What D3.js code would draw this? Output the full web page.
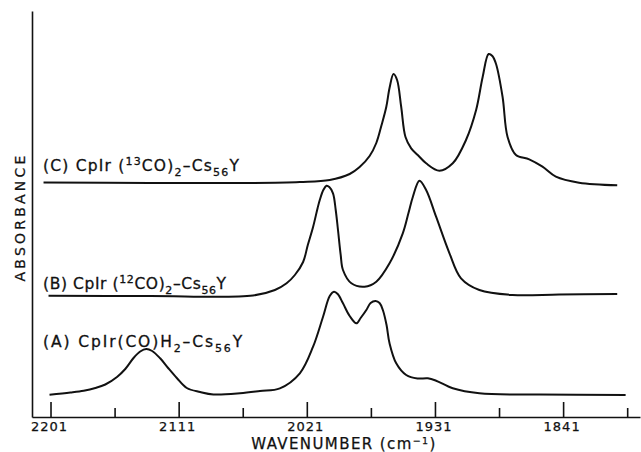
<!DOCTYPE html>
<meta charset="utf-8">
<script src="https://cdn.jsdelivr.net/npm/d3@7"></script>
<style>
body { margin: 0; background: #fff; }
.axis path, .axis line { stroke: #111; stroke-width: 1.6; }
.axis text { fill: #111; font-family: "DejaVu Sans", sans-serif; font-size: 13px; letter-spacing: 1px; stroke: #111; stroke-width: 0.25; }
path.trace { fill: none; stroke: #111; stroke-width: 2; stroke-linejoin: round; }
.trace_label { fill: #111; font-family: "DejaVu Sans", sans-serif; font-size: 15.5px; stroke: #111; stroke-width: 0.3; }
.axis_title { fill: #111; font-family: "DejaVu Sans", sans-serif; stroke: #111; stroke-width: 0.25; }
</style>
<body>
<div id="container"></div>
<script>
//------------------------------DATA------------------------------//
const majorTicks = [2201, 2111, 2021, 1931, 1841];
const minorTicks = [2156, 2066, 1976, 1886, 1796];

// [wavenumber (cm-1), absorbance (arb. units, traces offset)]
const traceA = [
  [2201.7, 22.3], [2187.0, 24.5], [2177.7, 26.3], [2169.5, 29], [2162.5, 32.5],
  [2154.3, 40], [2148.5, 48], [2142.7, 59], [2138.0, 65.5], [2133.8, 68],
  [2129.6, 66], [2124.0, 58.7], [2118.4, 49], [2112.3, 39], [2105.3, 29],
  [2095.9, 25], [2086.6, 22.5], [2067.9, 23.7], [2053.9, 26], [2039.9, 28.7],
  [2025.9, 43.7], [2016.6, 70.3], [2009.6, 100.3], [2004.9, 121], [2001.9, 125.3],
  [1999.3, 123], [1995.6, 113.7], [1990.9, 101], [1986.2, 93.7], [1983.2, 99],
  [1979.2, 107], [1976.2, 114], [1972.7, 116], [1969.9, 114], [1967.6, 107],
  [1965.0, 92], [1962.9, 73.7], [1958.2, 53.7], [1951.2, 42], [1943.3, 38.5],
  [1936.0, 38.7], [1930.2, 36.3], [1918.5, 28.7], [1899.8, 23.7], [1857.8, 22.5],
  [1797.1, 22]
];

const traceB = [
  [2202.4, 121.3], [2131.0, 121], [2058.8, 121.5], [2043.4, 127], [2035.2, 133.7],
  [2029.4, 142], [2023.6, 155], [2020.3, 172], [2016.6, 190], [2013.4, 209],
  [2011.9, 217], [2009.4, 227], [2007.2, 231.3], [2005.2, 230], [2002.6, 223.7],
  [2000.7, 207], [1999.1, 187], [1997.2, 162], [1995.6, 147], [1989.7, 133.7],
  [1980.4, 130.3], [1972.2, 135.3], [1962.9, 153.7], [1953.6, 183.7], [1949.6, 204],
  [1946.5, 220.3], [1941.9, 236.3], [1937.2, 227], [1930.2, 200.3], [1920.8, 163.7],
  [1912.7, 138.7], [1899.8, 127], [1876.5, 122], [1843.8, 122.5], [1803.0, 123]
];

const traceC = [
  [2205.9, 234.5], [2131.0, 234], [2060.9, 234], [2025.9, 235], [2004.9, 237],
  [1990.9, 243], [1983.9, 250], [1976.9, 261], [1972.2, 274], [1968.5, 292],
  [1965.2, 310], [1962.9, 329], [1960.1, 343], [1957.6, 337], [1954.7, 310],
  [1951.7, 280], [1947.7, 268.7], [1943.1, 262], [1937.2, 253.7], [1927.9, 246.3],
  [1918.5, 253.7], [1909.2, 277], [1902.1, 307], [1897.5, 340], [1893.3, 363],
  [1890.7, 361], [1888.1, 353], [1883.5, 320], [1880.0, 280], [1874.1, 262],
  [1864.8, 257.7], [1855.5, 250.3], [1846.1, 240.3], [1829.8, 234.3], [1803.0, 231.7]
];

const traceNames = ["(A)", "(B)", "(C)"];
// label pieces: [text, kind] kind = "" | "sup" | "sub"
const labelA = [["(A) CpIr(CO)H", ""], ["2", "sub"], ["\u2013Cs", ""], ["56", "sub"], ["Y", ""]];
const labelB = [["(B)  CpIr (", ""], ["12", "sup"], ["CO)", ""], ["2", "sub"], ["\u2013Cs", ""], ["56", "sub"], ["Y", ""]];
const labelC = [["(C)  CpIr (", ""], ["13", "sup"], ["CO)", ""], ["2", "sub"], ["\u2013Cs", ""], ["56", "sub"], ["Y", ""]];

//------------------------------SVG-------------------------------//
const width = 641;
const height = 452;

const svg = d3.select("#container").append("svg")
    .attr("width", width)
    .attr("height", height);

const xScale = d3.scaleLinear().domain([2214, 1787]).range([32, 640]);
const yScale = d3.scaleLinear().domain([0, 406]).range([417, 11]);

//-----------------------------AXES-------------------------------//
const xAxis = d3.axisBottom(xScale)
    .tickValues(majorTicks)
    .tickFormat(d3.format("d"))
    .tickSizeInner(-15)
    .tickSizeOuter(0)
    .tickPadding(5);

const xMinor = d3.axisBottom(xScale)
    .tickValues(minorTicks)
    .tickFormat("")
    .tickSizeInner(-9)
    .tickSizeOuter(0);

svg.append("g")
    .attr("class", "axis")
    .attr("transform", "translate(0," + yScale(0) + ")")
    .call(xMinor)
    .select(".domain").remove();

svg.append("g")
    .attr("class", "axis")
    .attr("transform", "translate(0," + yScale(0) + ")")
    .call(xAxis)
    .selectAll(".tick text").attr("dx", "-1.5px");

svg.append("g")
    .attr("class", "axis")
    .attr("transform", "translate(" + xScale.range()[0] + ",0)")
    .call(d3.axisLeft(yScale).tickValues([]).tickSizeOuter(0));

// axis titles
const xTitle = svg.append("text")
    .attr("class", "axis_title")
    .attr("x", 344)
    .attr("y", 448.5)
    .attr("text-anchor", "middle")
    .style("font-size", "15px")
    .style("letter-spacing", "1.4px");
xTitle.append("tspan").text("WAVENUMBER (cm");
xTitle.append("tspan").attr("dy", -4.5).style("font-size", "9.5px").text("\u22121");
xTitle.append("tspan").attr("dy", 4.5).text(")");

svg.append("text")
    .attr("class", "axis_title")
    .attr("transform", "translate(25,217) rotate(-90)")
    .attr("text-anchor", "middle")
    .style("font-size", "14px")
    .style("letter-spacing", "3.2px")
    .text("ABSORBANCE");

//----------------------------TRACES------------------------------//
const line = d3.line()
    .x(function(d) { return xScale(d[0]); })
    .y(function(d) { return yScale(d[1]); })
    .curve(d3.curveCatmullRom.alpha(0.5));

const traces = [traceA, traceB, traceC];
const labels = [labelA, labelB, labelC];
const labelGap = [48, 6.5, 12];
const labelSpacing = [1.9, 0.6, 1.2];

svg.selectAll("path.trace")
    .data(traces)
    .enter()
    .append("path")
    .attr("class", "trace")
    .attr("d", line);

labels.forEach(function(pieces, i) {
    const start = traces[i][0];
    const t = svg.append("text")
        .attr("class", "trace_label")
        .attr("id", "label" + traceNames[i].replace(/[()]/g, ""))
        .attr("x", 43)
        .attr("y", yScale(start[1]) - labelGap[i])
        .style("letter-spacing", labelSpacing[i] + "px");
    let shift = 0;
    pieces.forEach(function(p) {
        let target = 0;
        if (p[1] === "sup") target = -6;
        if (p[1] === "sub") target = 5;
        const ts = t.append("tspan").attr("dy", target - shift).text(p[0]);
        if (p[1]) ts.style("font-size", "11px");
        shift = target;
    });
});
</script>
</body>
